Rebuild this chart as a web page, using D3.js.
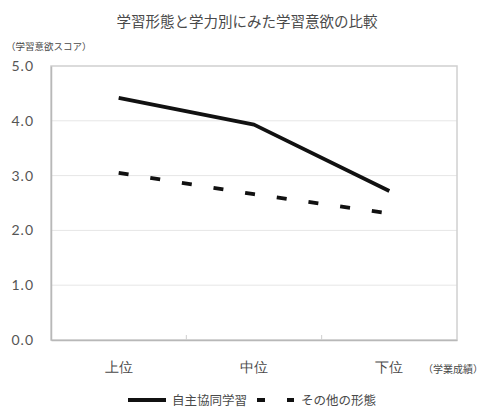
<!DOCTYPE html>
<html>
<head>
<meta charset="utf-8">
<script src="https://cdn.jsdelivr.net/npm/d3@7"></script>
<style>
  html, body { margin: 0; padding: 0; background: #fff; }
  svg { display: block; font-family: "Noto Sans CJK JP", "Noto Sans", sans-serif; }
</style>
</head>
<body>
<svg id="chart" width="486" height="412"></svg>
<script>
// Learning-motivation scores by achievement level and learning style
const categories = ["上位", "中位", "下位"];
const seriesNames = ["自主協同学習", "その他の形態"];
const selfCoopValues = [4.42, 3.93, 2.72];
const otherValues = [3.05, 2.66, 2.31];
const yTicks = [0, 1, 2, 3, 4, 5];

const svg = d3.select("#chart");
const margin = { left: 51, right: 29, top: 66, bottom: 72 };
const W = 486, H = 412;

const x = d3.scaleBand().domain(categories).range([margin.left, W - margin.right]).padding(0);
const y = d3.scaleLinear().domain([0, 5]).range([H - margin.bottom, margin.top]);

const textColor = "#4a4a4a";

// title
svg.append("text")
  .attr("x", 247).attr("y", 27)
  .attr("text-anchor", "middle")
  .attr("font-size", 14.5).attr("font-weight", 400)
  .attr("fill", textColor)
  .text("学習形態と学力別にみた学習意欲の比較");

// y-axis title
svg.append("text")
  .attr("x", 6).attr("y", 50)
  .attr("font-size", 9.5).attr("fill", textColor)
  .text("（学習意欲スコア）");

// horizontal gridlines
svg.append("g").selectAll("line")
  .data(yTicks.filter(d => d > 0 && d < 5))
  .join("line")
  .attr("x1", margin.left).attr("x2", W - margin.right)
  .attr("y1", d => y(d)).attr("y2", d => y(d))
  .attr("stroke", "#e6e6e6").attr("stroke-width", 1);

// plot frame
svg.append("rect")
  .attr("x", margin.left).attr("y", margin.top)
  .attr("width", W - margin.left - margin.right)
  .attr("height", H - margin.top - margin.bottom)
  .attr("fill", "none").attr("stroke", "#d0d0d0").attr("stroke-width", 1.5);

// left axis
const yAxis = d3.axisLeft(y).tickValues(yTicks).tickFormat(d3.format(".1f")).tickSize(0).tickPadding(17);
const gy = svg.append("g").attr("transform", `translate(${margin.left},0)`).call(yAxis);
gy.select(".domain").attr("stroke", "#b8b8b8").attr("stroke-width", 1.5);
gy.selectAll("text")
  .attr("font-size", 14).attr("fill", "#555")
  .attr("letter-spacing", 1)
  .attr("font-family", "Lato, 'Noto Sans', sans-serif");

// bottom axis
const xAxis = d3.axisBottom(x).tickSize(0).tickPadding(22);
const gx = svg.append("g").attr("transform", `translate(0,${y(0)})`).call(xAxis);
gx.select(".domain").attr("stroke", "#b8b8b8").attr("stroke-width", 1.5);
gx.selectAll("text").attr("font-size", 14).attr("fill", textColor);

// category separators on the bottom axis
svg.append("g").selectAll("line")
  .data(categories.slice(1))
  .join("line")
  .attr("x1", d => x(d)).attr("x2", d => x(d))
  .attr("y1", y(0)).attr("y2", y(0) - 5)
  .attr("stroke", "#cfcfcf").attr("stroke-width", 1);

// x-axis unit label
svg.append("text")
  .attr("x", 423).attr("y", 373)
  .attr("font-size", 10).attr("fill", textColor)
  .text("（学業成績）");

// lines
const line = d3.line()
  .x((d, i) => x(categories[i]) + x.bandwidth() / 2)
  .y(d => y(d));

svg.append("path")
  .datum(selfCoopValues)
  .attr("d", line)
  .attr("fill", "none").attr("stroke", "#111")
  .attr("stroke-width", 3.8).attr("stroke-linejoin", "round");

svg.append("path")
  .datum(otherValues)
  .attr("d", line)
  .attr("fill", "none").attr("stroke", "#111")
  .attr("stroke-width", 3.8).attr("stroke-dasharray", "10,22");

// legend
const lg = svg.append("g");
const ly = 400;
lg.append("line").attr("x1", 128).attr("x2", 166).attr("y1", ly).attr("y2", ly)
  .attr("stroke", "#111").attr("stroke-width", 3.8);
lg.append("text").attr("x", 172).attr("y", ly + 4.5)
  .attr("font-size", 12.5).attr("fill", textColor).text(seriesNames[0]);
lg.append("line").attr("x1", 257).attr("x2", 294).attr("y1", ly).attr("y2", ly)
  .attr("stroke", "#111").attr("stroke-width", 3.8).attr("stroke-dasharray", "8,22");
lg.append("text").attr("x", 301).attr("y", ly + 4.5)
  .attr("font-size", 12.5).attr("fill", textColor).text(seriesNames[1]);
</script>
</body>
</html>
